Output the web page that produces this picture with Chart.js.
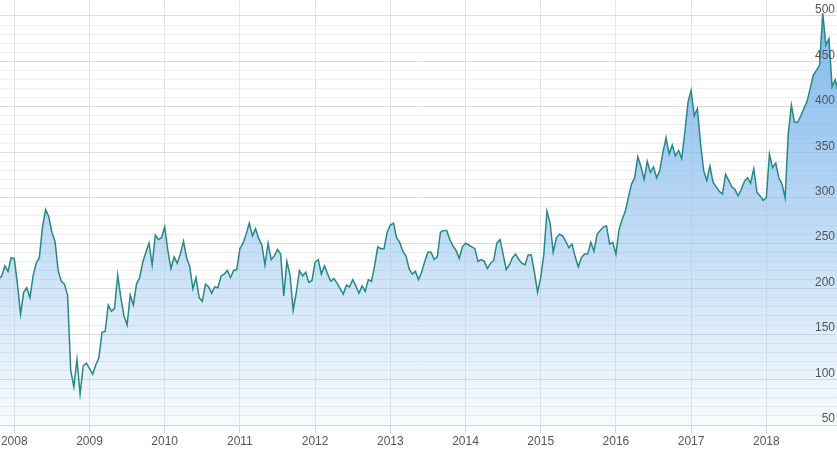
<!DOCTYPE html>
<html>
<head>
<meta charset="utf-8">
<script src="https://cdn.jsdelivr.net/npm/chart.js@4.4.1/dist/chart.umd.min.js"></script>
<style>
  html, body { margin: 0; padding: 0; background: #fff; }
  #wrap { width: 837px; height: 451px; }
</style>
</head>
<body>
<div id="wrap"><canvas id="price-chart"></canvas></div>
<script>
// Year ticks on the x axis
const years = [2008, 2009, 2010, 2011, 2012, 2013, 2014, 2015, 2016, 2017, 2018];

// Half-monthly closes (24 slots a year)
const prices2007 = [210, 214, 225, 219, 234]; // slots 19..23
const prices2008 = [233, 205, 172, 196, 201, 190, 214, 228, 234, 268, 287, 279, 262, 252, 220, 208, 205, 193, 110, 92, 122, 84, 115, 118];
const prices2009 = [112, 106, 116, 124, 152, 153, 182, 175, 178, 215, 190, 170, 160, 193, 182, 205, 212, 229, 240, 250, 226, 259, 254, 256];
const prices2010 = [268, 242, 222, 235, 228, 238, 252, 234, 224, 200, 212, 190, 186, 205, 202, 195, 202, 201, 214, 216, 220, 212, 220, 221];
const prices2011 = [244, 250, 260, 272, 258, 266, 255, 248, 226, 250, 232, 236, 243, 238, 192, 230, 215, 176, 196, 220, 214, 218, 207, 209];
const prices2012 = [229, 232, 216, 225, 216, 208, 211, 206, 200, 194, 204, 202, 210, 203, 195, 203, 197, 210, 208, 225, 246, 244, 244, 262];
const prices2013 = [270, 272, 256, 251, 241, 236, 222, 216, 219, 210, 218, 230, 240, 240, 232, 235, 262, 264, 264, 254, 247, 242, 233, 246];
const prices2014 = [250, 248, 246, 244, 230, 232, 230, 222, 228, 231, 250, 254, 238, 221, 226, 234, 238, 232, 228, 226, 237, 237, 218, 196];
const prices2015 = [212, 238, 285, 272, 240, 256, 260, 258, 252, 245, 249, 235, 224, 234, 238, 238, 251, 241, 260, 264, 268, 269, 249, 251];
const prices2016 = [238, 265, 276, 285, 301, 315, 322, 345, 334, 320, 340, 328, 334, 322, 330, 350, 366, 348, 358, 346, 352, 343, 372, 405];
const prices2017 = [418, 390, 398, 360, 330, 319, 335, 317, 312, 307, 304, 326, 319, 312, 309, 302, 309, 318, 322, 316, 332, 306, 302, 297];
const prices2018 = [300, 348, 333, 338, 322, 315, 300, 370, 402, 383, 383, 390, 398, 406, 420, 435, 440, 446, 503, 468, 475, 422, 430, 415];

const series = [
  [2007, 19, prices2007],
  [2008, 0, prices2008],
  [2009, 0, prices2009],
  [2010, 0, prices2010],
  [2011, 0, prices2011],
  [2012, 0, prices2012],
  [2013, 0, prices2013],
  [2014, 0, prices2014],
  [2015, 0, prices2015],
  [2016, 0, prices2016],
  [2017, 0, prices2017],
  [2018, 0, prices2018],
];

const points = [];
series.forEach(([year, firstSlot, values]) => {
  values.forEach((v, i) => points.push({ x: year + (firstSlot + i) / 24, y: v }));
});

const labelFont = { family: "'Liberation Sans', Arial, sans-serif", size: 12 };

const areaFill = (context) => {
  const { chart } = context;
  const area = chart.chartArea;
  if (!area) return "rgba(124, 181, 236, 0.5)";
  const g = chart.ctx.createLinearGradient(0, area.top, 0, area.bottom);
  g.addColorStop(0, "rgba(124, 181, 236, 1)");
  g.addColorStop(1, "rgba(124, 181, 236, 0.05)");
  return g;
};

new Chart(document.getElementById("price-chart"), {
  type: "line",
  data: {
    datasets: [
      {
        data: points,
        borderColor: "#268a84",
        borderWidth: 1.5,
        backgroundColor: areaFill,
        fill: "start",
        pointRadius: 0,
        tension: 0,
      },
    ],
  },
  options: {
    responsive: true,
    maintainAspectRatio: false,
    animation: false,
    layout: { padding: 0 },
    plugins: {
      legend: { display: false },
      tooltip: { enabled: false },
    },
    scales: {
      x: {
        type: "linear",
        position: "bottom",
        min: 2007.81,
        max: 2018.94,
        afterBuildTicks: (scale) => {
          scale.ticks = years.map((y) => ({ value: y }));
        },
        afterFit: (scale) => {
          scale.paddingLeft = 0;
          scale.paddingRight = 0;
          scale.height = 26;
        },
        grid: {
          color: "#e6e6e6",
          tickColor: "#ccd6eb",
          tickLength: 8,
        },
        border: { color: "#ccd6eb" },
        ticks: {
          autoSkip: false,
          maxRotation: 0,
          padding: 1,
          color: "#555",
          font: labelFont,
          callback: (v) => String(v),
        },
      },
      y: {
        position: "right",
        min: 50,
        max: 517.5,
        afterBuildTicks: (scale) => {
          scale.ticks = scale.ticks.filter((t) => t.value % 10 === 0);
        },
        afterFit: (scale) => {
          // labels sit inside the plot, the axis takes no room
          scale.width = 0;
          scale.paddingTop = 0;
          scale.paddingBottom = 0;
        },
        grid: {
          drawTicks: false,
          color: (ctx) => (ctx.tick && ctx.tick.value % 50 === 0 ? "#dcdcdc" : "#eeeeee"),
        },
        border: { display: false },
        ticks: {
          z: 1, // labels on top of the area
          mirror: true,
          autoSkip: false,
          stepSize: 10,
          labelOffset: -6,
          padding: -2,
          color: "#555",
          font: labelFont,
          callback: (v) => (v % 50 === 0 ? v : ""),
        },
      },
    },
  },
});
</script>
</body>
</html>
